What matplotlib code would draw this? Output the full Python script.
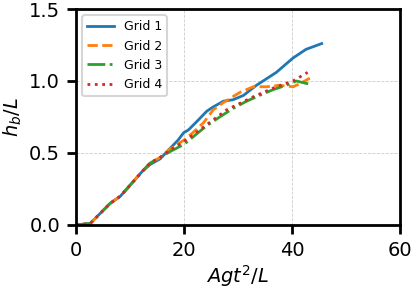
import matplotlib
matplotlib.use("Agg")
import matplotlib.pyplot as plt

# data
g1_x = [0, 2.6, 6.3, 8.2, 12.2, 13.7, 15.6, 17.1, 18.9, 19.9, 20.8, 22.4, 24.2, 25.4, 27.3, 29.1, 31.0, 33.4, 37.1, 40.2, 42.6, 45.5]
g1_y = [0, 0.01, 0.15, 0.20, 0.37, 0.42, 0.46, 0.52, 0.59, 0.64, 0.66, 0.72, 0.79, 0.82, 0.86, 0.87, 0.90, 0.97, 1.06, 1.16, 1.22, 1.26]

g2_x = [0, 2.6, 6.3, 8.2, 12.2, 13.7, 15.6, 17.1, 20.0, 21.6, 23.6, 25.4, 27.3, 30.3, 32.8, 35.3, 37.7, 40.2, 41.4, 43.3]
g2_y = [0, 0.01, 0.15, 0.20, 0.37, 0.43, 0.47, 0.52, 0.59, 0.64, 0.71, 0.80, 0.85, 0.92, 0.96, 0.96, 0.97, 0.96, 0.98, 1.02]

g3_x = [0, 2.6, 6.3, 8.2, 12.2, 13.7, 15.6, 17.4, 20.0, 21.6, 24.2, 26.6, 29.1, 31.6, 34.0, 36.5, 38.9, 40.8, 43.0]
g3_y = [0, 0.01, 0.15, 0.20, 0.37, 0.43, 0.47, 0.51, 0.56, 0.61, 0.69, 0.75, 0.81, 0.86, 0.90, 0.94, 0.97, 1.00, 0.98]

g4_x = [0, 2.6, 6.3, 8.2, 12.2, 13.7, 15.6, 17.4, 20.0, 23.6, 27.9, 32.8, 37.1, 40.2, 42.9]
g4_y = [0, 0.01, 0.15, 0.20, 0.37, 0.43, 0.47, 0.52, 0.58, 0.68, 0.80, 0.89, 0.96, 1.00, 1.06]

fig = plt.figure(figsize=(4.14, 2.91), dpi=100)
ax = fig.add_axes([0.184, 0.227, 0.782, 0.742])

ax.plot(g1_x, g1_y, "-", color="tab:blue", lw=2, label="Grid 1")
ax.plot(g2_x, g2_y, "--", color="tab:orange", lw=2, label="Grid 2")
ax.plot(g3_x, g3_y, "-.", color="tab:green", lw=2, label="Grid 3")
ax.plot(g4_x, g4_y, ":", color="tab:red", lw=2, label="Grid 4")

ax.set_xlim(0, 60)
ax.set_ylim(0, 1.5)
ax.set_xticks([0, 20, 40, 60])
ax.set_yticks([0, 0.5, 1.0, 1.5])
ax.grid(True, ls="--", color="#cccccc", lw=0.6)

for s in ax.spines.values():
    s.set_linewidth(2)
ax.tick_params(labelsize=14, width=2, length=6.5, pad=5)

ax.set_xlabel(r"$Agt^2/L$", fontsize=14, labelpad=2)
ax.set_ylabel(r"$h_b/L$", fontsize=14, labelpad=4)
leg = ax.legend(loc="upper left", fontsize=9, handlelength=2.1)
leg.get_frame().set_linewidth(1.5)

fig.savefig("out.png", dpi=100)
